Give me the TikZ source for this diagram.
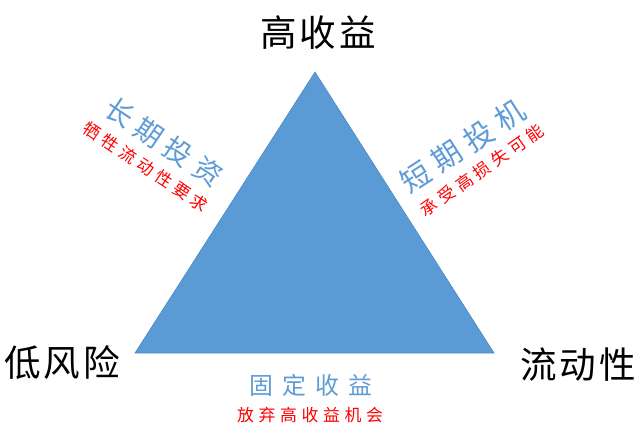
\documentclass[tikz,border=0pt]{standalone}
\usepackage{fontspec}
\setmainfont{Noto Sans CJK SC}
\usepackage{tikz}
\usetikzlibrary{positioning}
\definecolor{triblue}{HTML}{5B9BD5}
\definecolor{triedge}{HTML}{4A86C2}
\definecolor{labelblue}{HTML}{5F9BD6}
\makeatletter
\newcommand{\spread}[2]{\def\sp@first{1}%
\@tfor\sp@c:=#2\do{\ifx\sp@first\empty\kern#1\fi\sp@c\let\sp@first\empty}}
\makeatother
\pgfdeclarelayer{nodelayer}
\pgfdeclarelayer{edgelayer}
\pgfsetlayers{edgelayer,nodelayer,main}
\tikzstyle{none}=[inner sep=-1pt]
\tikzset{corner/.style={inner sep=0pt, font=\fontsize{26}{30}\selectfont}}
\tikzset{side/.style={inner sep=0pt, text=labelblue, font=\fontsize{20}{24}\selectfont}}
\tikzset{note/.style={inner sep=0pt, text=red, font=\fontsize{12}{14}\selectfont}}
\begin{document}
\begin{tikzpicture}[x=0.025cm, y=-0.025cm]
        \useasboundingbox (0, 0) rectangle (640, 448);
        \begin{pgfonlayer}{nodelayer}
            \node [style=none] (0) at (315, 72) {};
            \node [style=none] (1) at (135, 353) {};
            \node [style=none] (2) at (494, 353) {};
            \node [style=corner] (3) at (318, 33) {\spread{2pt}{高收益}};
            \node [style=corner] (4) at (62, 363) {\spread{2pt}{低风险}};
            \node [style=corner] (5) at (578, 365) {\spread{2pt}{流动性}};
            \node [style=side, rotate=-34] (6) at (164, 142) {\spread{5pt}{长期投资}};
            \node [style=note, rotate=-34] (7) at (146, 167) {\spread{3.3pt}{牺牲流动性要求}};
            \node [style=side, rotate=33, font=\fontsize{21}{24}\selectfont] (8) at (463, 146) {\spread{5.7pt}{短期投机}};
            \node [style=note, rotate=35] (9) at (482, 170) {\spread{3.3pt}{承受高损失可能}};
            \node [style=side, font=\fontsize{17}{20}\selectfont] (10) at (311, 385) {\spread{6.4pt}{固定收益}};
            \node [style=note] (11) at (310, 415) {\spread{3.3pt}{放弃高收益机会}};
        \end{pgfonlayer}
        \begin{pgfonlayer}{edgelayer}
            \draw [draw=triedge, fill=triblue, line width=0.4pt] (0.center) -- (1.center) -- (2.center) -- cycle;
        \end{pgfonlayer}
    \end{tikzpicture}
\end{document}
